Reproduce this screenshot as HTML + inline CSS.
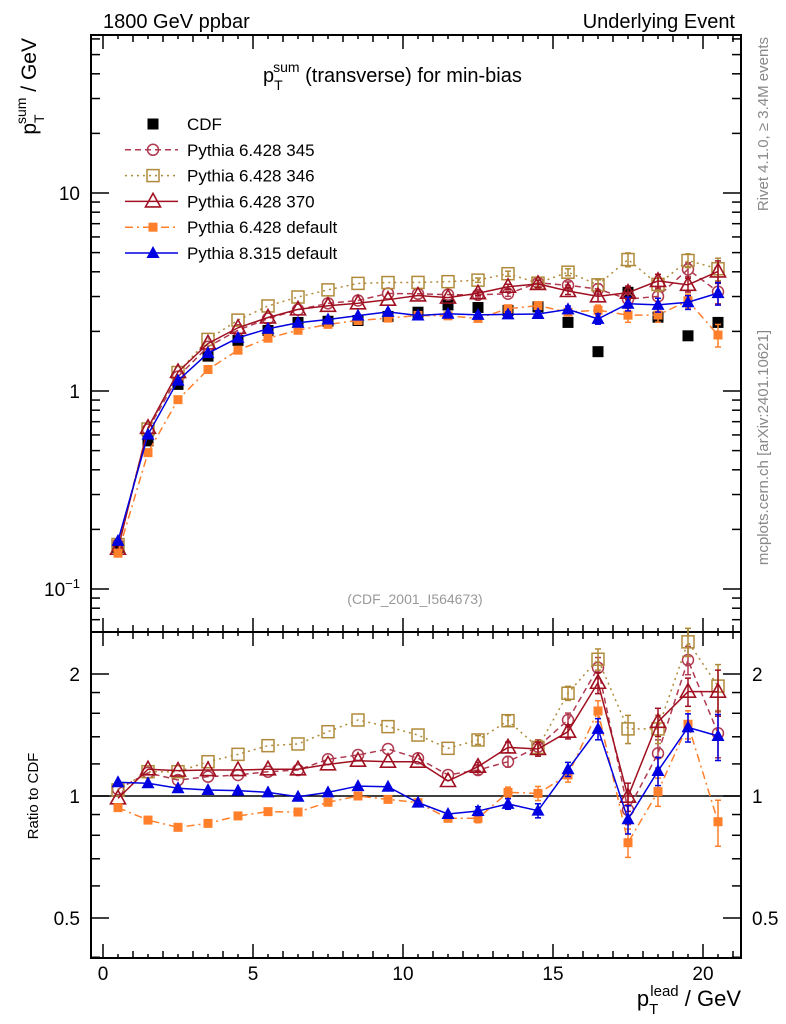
<!DOCTYPE html>
<html><head><meta charset="utf-8"><style>
body{margin:0;background:#fff;}
svg{display:block;font-family:"Liberation Sans",sans-serif;}
</style></head><body>
<svg id="c" width="786" height="1024"></svg>
<script>
const xCenters=[0.5,1.5,2.5,3.5,4.5,5.5,6.5,7.5,8.5,9.5,10.5,11.5,12.5,13.5,14.5,15.5,16.5,17.5,18.5,19.5,20.5];
const cdfVals=[0.162,0.56,1.08,1.5,1.8,2.02,2.22,2.25,2.27,2.38,2.5,2.72,2.64,2.55,2.66,2.22,1.58,3.15,2.36,1.9,2.22];
const ratio345=[1.039,1.141,1.095,1.116,1.127,1.148,1.159,1.232,1.262,1.306,1.239,1.127,1.159,1.215,1.323,1.54,2.072,0.924,1.274,2.165,1.428];
const ratio346=[1.035,1.148,1.148,1.215,1.267,1.331,1.344,1.441,1.54,1.483,1.414,1.311,1.375,1.534,1.318,1.793,2.175,1.464,1.464,2.401,1.867];
const ratio370=[0.987,1.164,1.155,1.159,1.159,1.164,1.164,1.197,1.222,1.215,1.215,1.089,1.181,1.318,1.306,1.441,1.903,0.996,1.524,1.809,1.809];
const ratioDef6=[0.936,0.872,0.837,0.856,0.893,0.915,0.913,0.965,1.0,0.981,0.963,0.881,0.881,1.021,1.015,1.127,1.621,0.767,1.025,1.503,0.864];
const ratioPy8=[1.081,1.075,1.045,1.035,1.031,1.021,0.996,1.021,1.058,1.054,0.963,0.903,0.918,0.956,0.92,1.164,1.464,0.876,1.153,1.477,1.406];
const errFrac=[0.01,0.01,0.01,0.01,0.01,0.01,0.01,0.01,0.01,0.01,0.015,0.02,0.025,0.03,0.04,0.04,0.06,0.08,0.08,0.08,0.13];
const mainTicks=[0.1,1,10];
const ratioTicks=[0.5,1,2];
const xTicks=[0,5,10,15,20];

const NS="http://www.w3.org/2000/svg";
const svg=document.getElementById('c');
function el(t,a,p){const e=document.createElementNS(NS,t);for(const k in a)e.setAttribute(k,a[k]);(p||svg).appendChild(e);return e;}
const L=91,R=741,T1=35,B1=632,T2=632,B2=958;
const X=v=>103+30*v;
const Ym=v=>391-198*Math.log10(v);
const Yr=v=>796-122*Math.log2(v);

let f1=el('rect',{x:L,y:T1,width:R-L,height:B1-T1,fill:'none',stroke:'#000','stroke-width':2});

let f2=el('rect',{x:L,y:T2,width:R-L,height:B2-T2,fill:'none',stroke:'#000','stroke-width':2});


for(let v=-0.0;v<=21;v+=0.5){
 const maj=Math.abs(v%5)<1e-6, mid=Math.abs(v%1)<1e-6;
 const len=maj?14:(mid?7:4);
 [T1,T2].forEach(t=>el('line',{x1:X(v),x2:X(v),y1:t,y2:t+len,stroke:'#000','stroke-width':1.5}));
 [B1,B2].forEach(b=>el('line',{x1:X(v),x2:X(v),y1:b,y2:b-len,stroke:'#000','stroke-width':1.5}));
}
xTicks.forEach(v=>{const t=el('text',{x:X(v),y:980,'font-size':19,'text-anchor':'middle'});t.textContent=v;
 });

for(let d=-2;d<=1;d++){for(let m=1;m<10;m++){const v=m*Math.pow(10,d);const y=Ym(v);if(y<T1||y>B1)continue;
 const len=m==1?18:9;
 el('line',{x1:L,x2:L+len,y1:y,y2:y,stroke:'#000','stroke-width':1.5});
 el('line',{x1:R,x2:R-len,y1:y,y2:y,stroke:'#000','stroke-width':1.5});}}
mainTicks.forEach(v=>{const t=el('text',{x:80,y:Ym(v)+7,'font-size':19,'text-anchor':'end'});
 if(v==0.1){t.innerHTML='10<tspan dy="-8" font-size="13">−1</tspan>';}else t.textContent=v;
 });
[0.4,0.5,0.6,0.7,0.8,0.9,1,2].forEach(v=>{const y=Yr(v);if(y<T2||y>B2)return;const len=(v==0.5||v==1||v==2)?18:9;
 el('line',{x1:L,x2:L+len,y1:y,y2:y,stroke:'#000','stroke-width':1.5});
 el('line',{x1:R,x2:R-len,y1:y,y2:y,stroke:'#000','stroke-width':1.5});});
[1.2,1.4,1.6,1.8].forEach(v=>{const y=Yr(v);el('line',{x1:L,x2:L+9,y1:y,y2:y,stroke:'#000','stroke-width':1.5});el('line',{x1:R,x2:R-9,y1:y,y2:y,stroke:'#000','stroke-width':1.5});});
ratioTicks.forEach(v=>{const a=el('text',{x:80,y:Yr(v)+7,'font-size':19,'text-anchor':'end'});a.textContent=v;
 
 const b=el('text',{x:752,y:Yr(v)+7,'font-size':19});b.textContent=v;
 });
el('line',{x1:L,x2:R,y1:Yr(1),y2:Yr(1),stroke:'#000','stroke-width':1.5});

const series=[
 {name:'pythia-6428-345',r:ratio345,col:'#b03a50',dash:'6,4',mk:'circle'},
 {name:'pythia-6428-346',r:ratio346,col:'#b08a3a',dash:'2,4',mk:'osquare'},
 {name:'pythia-6428-370',r:ratio370,col:'#a01020',dash:'',mk:'otri'},
 {name:'pythia-6428-default',r:ratioDef6,col:'#ff7f2a',dash:'8,4,2,4',mk:'fsquare'},
 {name:'pythia-8315-default',r:ratioPy8,col:'#0000e0',dash:'',mk:'ftri'}];
function marker(g,mk,x,y,col,s){s=s||1;
 if(mk=='circle')return el('circle',{cx:x,cy:y,r:5.5*s,fill:'none',stroke:col,'stroke-width':1.5},g);
 if(mk=='osquare')return el('rect',{x:x-6*s,y:y-6*s,width:12*s,height:12*s,fill:'none',stroke:col,'stroke-width':1.5},g);
 if(mk=='fsquare')return el('rect',{x:x-4.5*s,y:y-4.5*s,width:9*s,height:9*s,fill:col},g);
 if(mk=='bsquare')return el('rect',{x:x-5.5*s,y:y-5.5*s,width:11*s,height:11*s,fill:col},g);
 if(mk=='otri')return el('polygon',{points:`${x},${y-8*s} ${x-7.5*s},${y+5.5*s} ${x+7.5*s},${y+5.5*s}`,fill:'none',stroke:col,'stroke-width':1.6},g);
 if(mk=='ftri')return el('polygon',{points:`${x},${y-7*s} ${x-6.5*s},${y+5*s} ${x+6.5*s},${y+5*s}`,fill:col},g);}
function drawSeries(s,yf,vals,dname){
 const g=el('g',{});
 el('polyline',{points:vals.map((v,i)=>X(xCenters[i])+','+yf(v)).join(' '),fill:'none',stroke:s.col,'stroke-width':1.5,'stroke-dasharray':s.dash},g);
 vals.forEach((v,i)=>{const e=errFrac[i];if(e>0.02){const x=X(xCenters[i]);
  el('line',{x1:x,x2:x,y1:yf(v*(1+e)),y2:yf(v*(1-e)),stroke:s.col,'stroke-width':1.5},g);
  el('line',{x1:x-3,x2:x+3,y1:yf(v*(1+e)),y2:yf(v*(1+e)),stroke:s.col,'stroke-width':1.5},g);
  el('line',{x1:x-3,x2:x+3,y1:yf(v*(1-e)),y2:yf(v*(1-e)),stroke:s.col,'stroke-width':1.5},g);}
  marker(g,s.mk,X(xCenters[i]),yf(v),s.col);});}
const gc=el('g',{});
cdfVals.forEach((v,i)=>marker(gc,'bsquare',X(xCenters[i]),Ym(v),'#000'));
series.forEach(s=>{
 drawSeries(s,Ym,s.r.map((r,i)=>r*cdfVals[i]),s.name+'-main');
 drawSeries(s,Yr,s.r,s.name+'-ratio');});

const leg=[{t:'CDF',mk:'bsquare',col:'#000',dash:null}].concat(series.map(s=>({t:{'pythia-6428-345':'Pythia 6.428 345','pythia-6428-346':'Pythia 6.428 346','pythia-6428-370':'Pythia 6.428 370','pythia-6428-default':'Pythia 6.428 default','pythia-8315-default':'Pythia 8.315 default'}[s.name],mk:s.mk,col:s.col,dash:s.dash})));
leg.forEach((l,i)=>{const y=124+i*25.8;const g=el('g',{});
 
 if(l.dash!==null)el('line',{x1:125,x2:178,y1:y,y2:y,stroke:l.col,'stroke-width':1.5,'stroke-dasharray':l.dash},g);
 marker(g,l.mk,153,y,l.col);
 const t=el('text',{x:187,y:y+6,'font-size':17},g);t.textContent=l.t;});

function txt(s,a,name){const t=el('text',a);t.innerHTML=s;return t;}
txt('1800 GeV ppbar',{x:103,y:28,'font-size':20},'top-left-label');
txt('Underlying Event',{x:735,y:28,'font-size':20,'text-anchor':'end'},'top-right-label');
txt('p<tspan dy="8" font-size="14">T</tspan><tspan dy="-18" dx="-8" font-size="14">sum</tspan><tspan dy="10"> (transverse) for min-bias</tspan>',{x:263,y:82,'font-size':20},'plot-title');
txt('(CDF_2001_I564673)',{x:415,y:604,'font-size':14,fill:'#999','text-anchor':'middle'},'analysis-id');
txt('Rivet 4.1.0, ≥ 3.4M events',{x:0,y:0,'font-size':15,fill:'#888','text-anchor':'end',transform:'translate(768,37) rotate(-90)'},'rivet-label');
txt('mcplots.cern.ch [arXiv:2401.10621]',{x:0,y:0,'font-size':15,fill:'#888','text-anchor':'end',transform:'translate(768,330) rotate(-90)'},'mcplots-label');
txt('p<tspan dy="8" font-size="14">T</tspan><tspan dy="-18" dx="-8" font-size="14">sum</tspan><tspan dy="10"> / GeV</tspan>',{x:0,y:0,'font-size':21,'text-anchor':'end',transform:'translate(36,38) rotate(-90)'},'y-axis-title');
txt('Ratio to CDF',{x:0,y:0,'font-size':15,'text-anchor':'middle',transform:'translate(38,796) rotate(-90)'},'ratio-axis-title');
txt('p<tspan dy="8" font-size="15">T</tspan><tspan dy="-18" dx="-8" font-size="15">lead</tspan><tspan dy="10"> / GeV</tspan>',{x:741,y:1006,'font-size':22,'text-anchor':'end'},'x-axis-title');
</script>
</body></html>
